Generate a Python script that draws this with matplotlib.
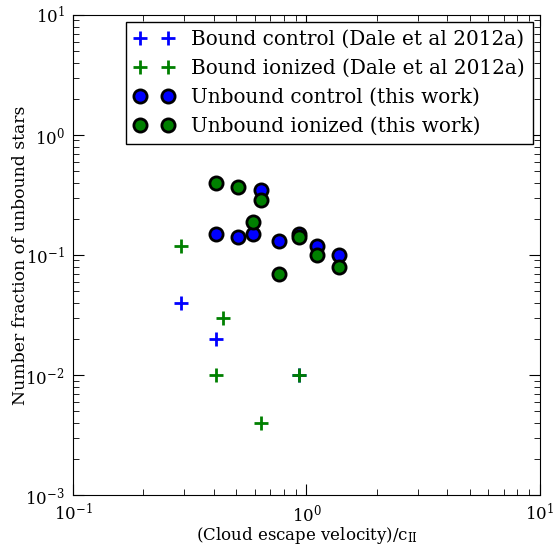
import matplotlib
matplotlib.use("Agg")
import matplotlib.pyplot as plt

plt.rcParams['font.family'] = ['DejaVu Serif']
plt.rcParams['mathtext.fontset'] = 'dejavuserif'
plt.rcParams['xtick.direction'] = 'in'
plt.rcParams['ytick.direction'] = 'in'
plt.rcParams['xtick.top'] = True
plt.rcParams['ytick.right'] = True

# Bound (Dale et al 2012a)
bc_x = [0.29, 0.41, 0.93]
bc_y = [0.04, 0.02, 0.01]
bi_x = [0.29, 0.44, 0.41, 0.93, 0.64]
bi_y = [0.12, 0.03, 0.01, 0.01, 0.004]
# Unbound (this work)
uc_x = [0.41, 0.51, 0.59, 0.64, 0.76, 0.93, 1.11, 1.38]
uc_y = [0.15, 0.14, 0.15, 0.35, 0.13, 0.15, 0.12, 0.10]
ui_x = [0.41, 0.51, 0.64, 0.59, 0.76, 0.93, 1.11, 1.38]
ui_y = [0.40, 0.37, 0.29, 0.19, 0.07, 0.14, 0.10, 0.08]

fig = plt.figure(figsize=(5.55, 5.45), dpi=100)
ax = fig.add_axes([0.1315, 0.0917, 0.8415, 0.8808])

ax.plot(bc_x, bc_y, '+', color='blue', ms=10, mew=2, ls='none',
        label='Bound control (Dale et al 2012a)')
ax.plot(bi_x, bi_y, '+', color='green', ms=10, mew=2, ls='none',
        label='Bound ionized (Dale et al 2012a)')
ax.plot(uc_x, uc_y, 'o', mfc='blue', mec='black', ms=9.5, mew=2, ls='none',
        label='Unbound control (this work)')
ax.plot(ui_x, ui_y, 'o', mfc='green', mec='black', ms=9.5, mew=2, ls='none',
        label='Unbound ionized (this work)')

ax.set_xscale('log')
ax.set_yscale('log')
ax.set_xlim(0.1, 10)
ax.set_ylim(1e-3, 10)
ax.tick_params(which='major', length=8, labelsize=12, pad=6)
ax.tick_params(which='minor', length=4)
ax.set_xlabel(r'(Cloud escape velocity)/c$_{\rm II}$', fontsize=12, labelpad=0)
ax.set_ylabel('Number fraction of unbound stars', fontsize=12.4, labelpad=-2.5)

leg = ax.legend(loc='upper right', numpoints=2, fontsize=14.4, fancybox=False,
                framealpha=1, edgecolor='black', handlelength=2.0,
                handletextpad=0.85, borderpad=0.4, labelspacing=0.5,
                borderaxespad=0.35)
leg.get_frame().set_linewidth(1.0)

fig.savefig('out.png', dpi=100, facecolor='white')
